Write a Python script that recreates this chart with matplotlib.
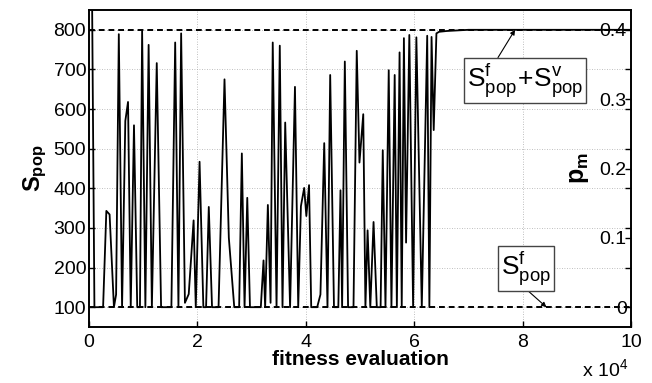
import matplotlib
matplotlib.use("Agg")
import matplotlib.pyplot as plt
from matplotlib.ticker import FuncFormatter

plt.rcParams["font.family"] = ["Liberation Sans", "DejaVu Sans"]
plt.rcParams["mathtext.fontset"] = "custom"
plt.rcParams["mathtext.rm"] = "Liberation Sans"
plt.rcParams["mathtext.it"] = "Liberation Sans"
plt.rcParams["mathtext.bf"] = "Liberation Sans:bold"

# fitness evaluations (x 10^4) and population size
evals_1e4 = [
    0.05, 0.10, 0.26, 0.32, 0.38, 0.46, 0.50, 0.55, 0.61, 0.67, 0.72, 0.77,
    0.83, 0.89, 0.94, 0.98, 1.04, 1.10, 1.16, 1.25, 1.33, 1.52, 1.59, 1.65,
    1.70, 1.77, 1.84, 1.93, 1.97, 2.04, 2.11, 2.16, 2.21, 2.27, 2.39, 2.50,
    2.58, 2.68, 2.77, 2.82, 2.87, 2.92, 2.97, 3.17, 3.22, 3.25, 3.30, 3.35,
    3.39, 3.46, 3.52, 3.57, 3.62, 3.71, 3.80, 3.86, 3.91, 3.97, 4.01, 4.06,
    4.10, 4.21, 4.27, 4.34, 4.40, 4.45, 4.52, 4.60, 4.64, 4.67, 4.72, 4.78,
    4.88, 4.94, 4.99, 5.06, 5.10, 5.14, 5.19, 5.25, 5.31, 5.38, 5.42, 5.47,
    5.53, 5.58, 5.64, 5.68, 5.73, 5.77, 5.81, 5.85, 5.91, 5.98, 6.04, 6.14,
    6.24, 6.28, 6.32, 6.36, 6.41, 6.46, 6.60, 7.00, 10.0,
]
s_pop = [
    1000, 100, 100, 343, 334, 100, 132, 789, 100, 570, 618, 100,
    559, 100, 100, 798, 100, 762, 100, 716, 100, 100, 768, 100,
    791, 111, 133, 319, 100, 467, 100, 100, 353, 100, 100, 675,
    275, 100, 100, 488, 100, 376, 100, 100, 218, 100, 358, 111,
    768, 100, 760, 100, 566, 100, 656, 100, 355, 401, 330, 408,
    100, 100, 132, 514, 100, 686, 100, 100, 395, 100, 720, 100,
    100, 747, 465, 587, 100, 294, 100, 315, 100, 100, 496, 100,
    698, 100, 686, 100, 743, 100, 779, 263, 787, 100, 781, 100,
    785, 100, 782, 547, 791, 795, 797, 800, 800,
]
s_fixed = 100
s_total = 800
pm_ticks = [0, 0.1, 0.2, 0.3, 0.4]

fig = plt.figure(figsize=(6.52, 3.83), dpi=100)
ax = fig.add_axes([89 / 652, 1 - 327 / 383, 542 / 652, 317 / 383])

ax.plot(evals_1e4, s_pop, color="black", lw=1.3, zorder=3)
ax.axhline(s_total, color="black", lw=1.4, ls=(0, (3, 2)), zorder=2)
ax.axhline(s_fixed, color="black", lw=1.4, ls=(0, (3, 2)), zorder=2)

ax.set_xlim(0, 10)
ax.set_ylim(50, 850)
ax.set_xticks(range(0, 11, 2))
ax.set_yticks(range(100, 801, 100))
ax.grid(True, color="#aaaaaa", ls=(0, (1, 2)), lw=0.6)
ax.tick_params(direction="in", length=4, labelsize=14, width=1)
ax.tick_params(axis="x", pad=5)
ax.tick_params(axis="y", pad=2)
for sp in ax.spines.values():
    sp.set_linewidth(1.2)

ax.set_xlabel("fitness evaluation", fontsize=15, fontweight="bold", labelpad=-1)
ax.set_ylabel(r"$\mathbf{S_{pop}}$", fontsize=17, labelpad=3)

# right axis: mutation probability mapped onto the same span
ax2 = ax.twinx()
lo, hi = ax.get_ylim()
ax2.set_ylim((lo - s_fixed) / 1750, (hi - s_fixed) / 1750)
ax2.set_yticks(pm_ticks)
ax2.set_yticks([(v - s_fixed) / 1750 for v in range(100, 801, 100)], minor=True)
ax2.yaxis.set_major_formatter(FuncFormatter(lambda v, p: f"{v:g}"))
ax2.tick_params(axis="y", which="both", direction="in", length=4, width=1,
                labelsize=14, pad=-3)
for lbl in ax2.get_yticklabels():
    lbl.set_ha("right")
ax2.set_ylabel(r"$\mathbf{p_m}$", fontsize=18)
ax2.yaxis.set_label_coords(0.882, 0.5)
for sp in ax2.spines.values():
    sp.set_linewidth(1.2)

ax.annotate(r"$\mathregular{S^f_{pop}\!+\!S^v_{pop}}$", xy=(7.86, s_total),
            xytext=(8.04, 672), ha="center", va="center", fontsize=19,
            bbox=dict(boxstyle="square,pad=0.12", fc="white", ec="#444444", lw=1),
            arrowprops=dict(arrowstyle="-|>", color="black", lw=0.8,
                            mutation_scale=7, relpos=(0.25, 1.0),
                            shrinkA=0, shrinkB=0), zorder=5)
ax.annotate(r"$\mathregular{S^f_{pop}}$", xy=(8.44, s_fixed),
            xytext=(8.07, 197), ha="center", va="center", fontsize=19,
            bbox=dict(boxstyle="square,pad=0.12", fc="white", ec="#444444", lw=1),
            arrowprops=dict(arrowstyle="-|>", color="black", lw=0.8,
                            mutation_scale=7, relpos=(0.47, 0.0),
                            shrinkA=0, shrinkB=0), zorder=5)

fig.text(582 / 652, 1 - 376 / 383, r"x 10$^{\mathregular{4}}$", fontsize=14,
         ha="left", va="baseline")

fig.savefig("out.png", dpi=100)
